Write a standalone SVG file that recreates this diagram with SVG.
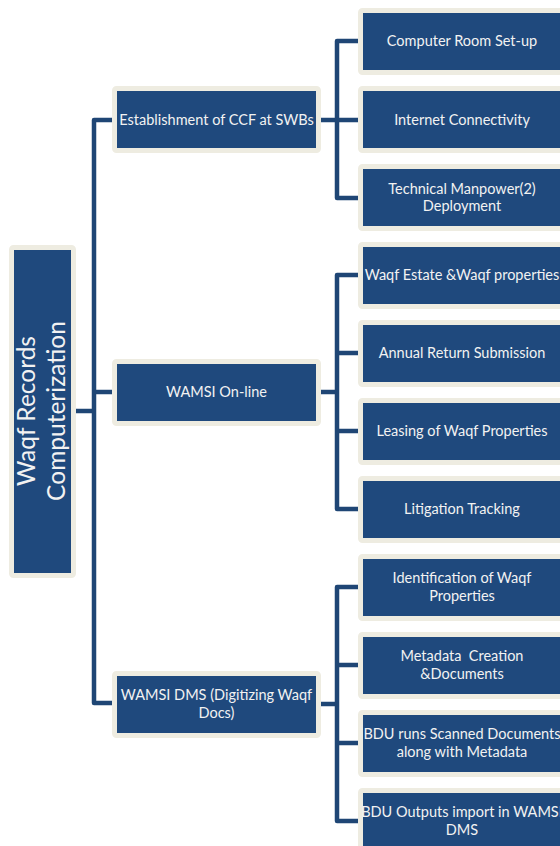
<svg xmlns="http://www.w3.org/2000/svg" width="560" height="846" viewBox="0 0 560 846">
<style>
.box{fill:#1f497d;stroke:#eeece1;stroke-width:5}
.conn{fill:none;stroke:#1f4675;stroke-width:4.5;stroke-linejoin:round;stroke-linecap:butt}
.t{font-family:Lato,"Open Sans","Liberation Sans",sans-serif;font-size:14.5px;fill:#f2f2f2;text-anchor:middle}
.root{font-family:Lato,"Open Sans","Liberation Sans",sans-serif;font-size:24.5px;fill:#f2f2f2;text-anchor:middle}
</style>
<rect width="560" height="846" fill="#ffffff"/>
<g id="connectors">
<path class="conn" d="M74 411H94"/>
<path class="conn" d="M115 120H94V703H115"/>
<path class="conn" d="M94 392H115"/>
<path class="conn" d="M319 120H337"/>
<path class="conn" d="M360 41H337V198H360M337 120H360"/>
<path class="conn" d="M319 392H337"/>
<path class="conn" d="M360 275H337V509H360M337 353H360M337 431H360"/>
<path class="conn" d="M319 704H337"/>
<path class="conn" d="M360 587H337V821H360M337 665H360M337 743H360"/>
</g>
<g id="root">
<rect class="box" x="11.5" y="247.5" width="62" height="328" rx="2"/>
<g transform="translate(0,411) rotate(-90)">
<text class="root" x="0" y="35">Waqf Records</text>
<text class="root" x="0" y="65">Computerization</text>
</g>
</g>
<g id="ccf">
<rect class="box" x="114.5" y="88.5" width="204" height="62" rx="2"/>
<text class="t" x="216.5" y="125">Establishment of CCF at SWBs</text>
</g>
<g id="wamsi-online">
<rect class="box" x="114.5" y="361.5" width="204" height="62" rx="2"/>
<text class="t" x="216.5" y="397">WAMSI On-line</text>
</g>
<g id="wamsi-dms">
<rect class="box" x="114.5" y="673.5" width="204" height="62" rx="2"/>
<text class="t" x="216.5" y="700">WAMSI DMS (Digitizing Waqf</text>
<text class="t" x="216.5" y="718">Docs)</text>
</g>
<g id="computer-room">
<rect class="box" x="360.5" y="10.5" width="204" height="62" rx="2"/>
<text class="t" x="462" y="46">Computer Room Set-up</text>
</g>
<g id="internet">
<rect class="box" x="360.5" y="88.5" width="204" height="62" rx="2"/>
<text class="t" x="462" y="125">Internet Connectivity</text>
</g>
<g id="manpower">
<rect class="box" x="360.5" y="166.5" width="204" height="62" rx="2"/>
<text class="t" x="462" y="194">Technical Manpower(2)</text>
<text class="t" x="462" y="211">Deployment</text>
</g>
<g id="estate">
<rect class="box" x="360.5" y="244.5" width="204" height="62" rx="2"/>
<text class="t" x="462" y="280">Waqf Estate &amp;Waqf properties</text>
</g>
<g id="annual">
<rect class="box" x="360.5" y="322.5" width="204" height="62" rx="2"/>
<text class="t" x="462" y="358">Annual Return Submission</text>
</g>
<g id="leasing">
<rect class="box" x="360.5" y="400.5" width="204" height="62" rx="2"/>
<text class="t" x="462" y="436">Leasing of Waqf Properties</text>
</g>
<g id="litigation">
<rect class="box" x="360.5" y="478.5" width="204" height="62" rx="2"/>
<text class="t" x="462" y="514">Litigation Tracking</text>
</g>
<g id="identification">
<rect class="box" x="360.5" y="556.5" width="204" height="62" rx="2"/>
<text class="t" x="462" y="583">Identification of Waqf</text>
<text class="t" x="462" y="601">Properties</text>
</g>
<g id="metadata">
<rect class="box" x="360.5" y="634.5" width="204" height="62" rx="2"/>
<text class="t" x="462" y="661" xml:space="preserve">Metadata  Creation</text>
<text class="t" x="462" y="679">&amp;Documents</text>
</g>
<g id="bdu-runs">
<rect class="box" x="360.5" y="712.5" width="204" height="62" rx="2"/>
<text class="t" x="462" y="739">BDU runs Scanned Documents</text>
<text class="t" x="462" y="757">along with Metadata</text>
</g>
<g id="bdu-outputs">
<rect class="box" x="360.5" y="790.5" width="204" height="62" rx="2"/>
<text class="t" x="462" y="817">BDU Outputs import in WAMSI</text>
<text class="t" x="462" y="835">DMS</text>
</g>
</svg>
